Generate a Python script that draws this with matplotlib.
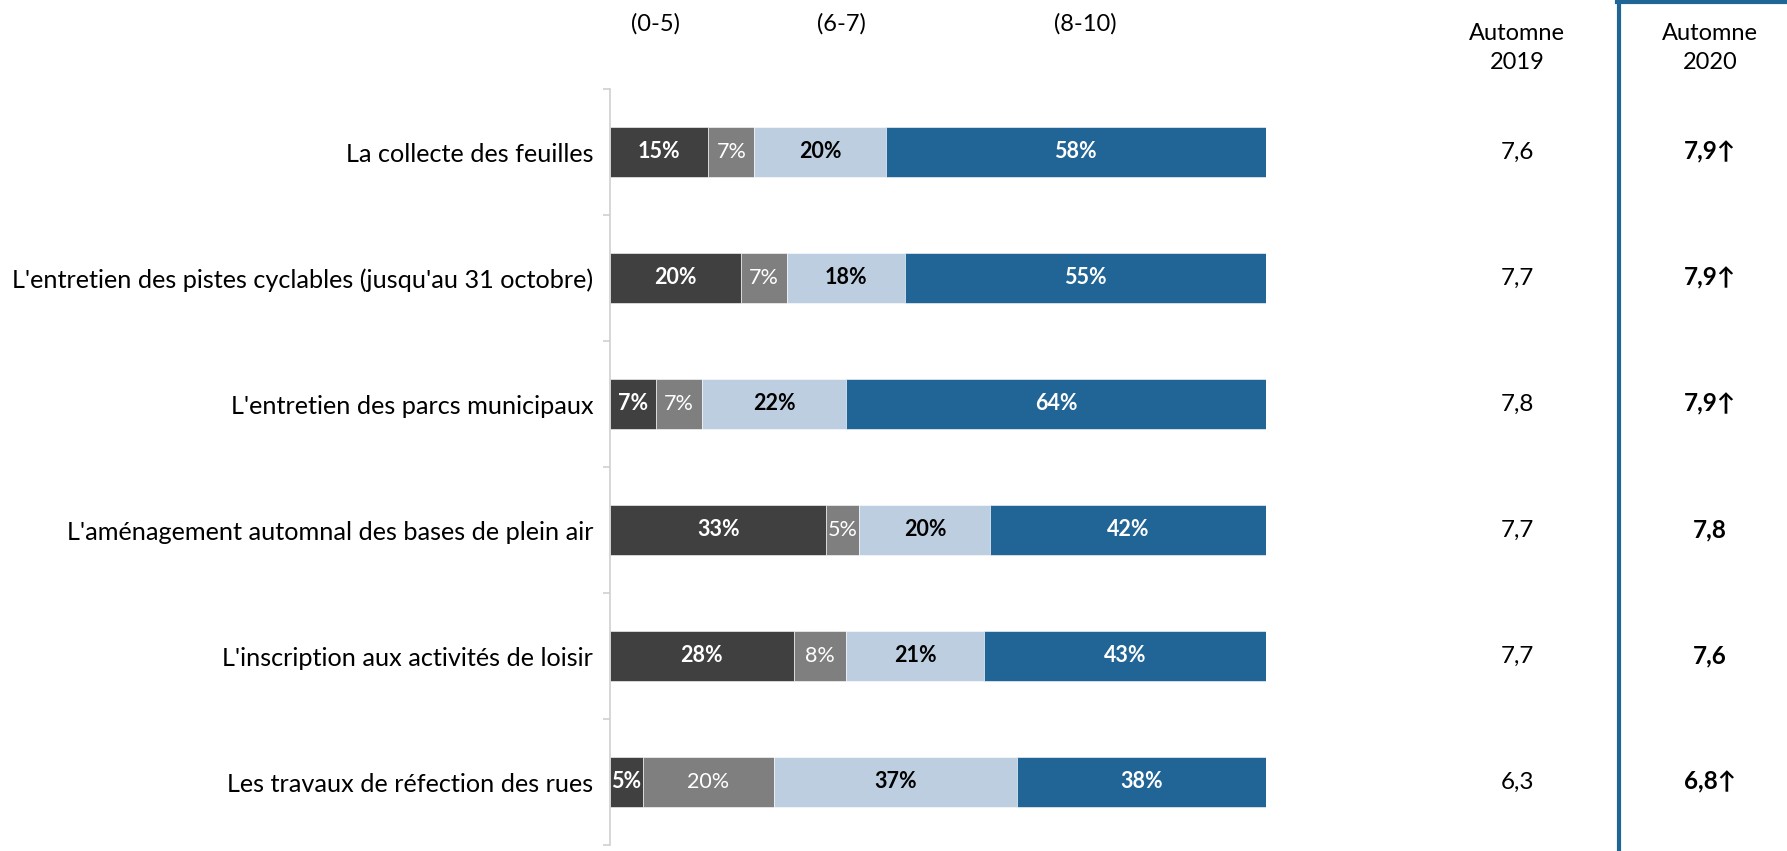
import numpy as np
import matplotlib.pyplot as plt
from matplotlib.lines import Line2D

plt.rcParams['font.family'] = ['Lato', 'DejaVu Sans']

categories = ["La collecte des feuilles",
              "L'entretien des pistes cyclables (jusqu'au 31 octobre)",
              "L'entretien des parcs municipaux",
              "L'aménagement automnal des bases de plein air",
              "L'inscription aux activités de loisir",
              "Les travaux de réfection des rues"]
bad = [15, 20, 7, 33, 28, 5]        # (0-5), part 1
low = [7, 7, 7, 5, 8, 20]           # (0-5), part 2
mid = [20, 18, 22, 20, 21, 37]      # (6-7)
high = [58, 55, 64, 42, 43, 38]     # (8-10)
score_2019 = ["7,6", "7,7", "7,8", "7,7", "7,7", "6,3"]
score_2020 = ["7,9↑", "7,9↑", "7,9↑", "7,8", "7,6", "6,8↑"]
group_labels = ["(0-5)", "(6-7)", "(8-10)"]

series = [bad, low, mid, high]
colors = ['#404040', '#7f7f7f', '#bccee0', '#216496']
txt_colors = ['white', 'white', 'black', 'white']
txt_weights = ['bold', 'normal', 'bold', 'bold']

W, H = 1787, 851
fig = plt.figure(figsize=(W / 100, H / 100), dpi=100)
ax = fig.add_axes([610 / W, 6 / H, 656 / W, (845 - 89) / H])

y = np.arange(len(categories))
left = np.zeros(len(categories))
for vals, c, tc, tw in zip(series, colors, txt_colors, txt_weights):
    vals = np.array(vals)
    ax.barh(y, vals, left=left, height=0.39, color=c, edgecolor='white', linewidth=0.4)
    for yi, l, v in zip(y, left, vals):
        ax.text(l + v / 2, yi, f"{v}%", ha='center', va='center',
                color=tc, fontweight=tw, fontsize=15.5)
    left += vals

ax.set_xlim(0, 100)
ax.set_ylim(len(categories) - 0.5, -0.5)
ax.set_xticks([])
ax.set_yticks(y)
ax.set_yticklabels(categories, fontsize=18.2)
ax.set_yticks(np.arange(-0.5, len(categories)), minor=True)
ax.tick_params(axis='y', which='major', length=0, pad=12)
ax.tick_params(axis='y', which='minor', length=5, color='#d0d0d0', width=1.2)
for s in ['top', 'right', 'bottom']:
    ax.spines[s].set_visible(False)
ax.spines['left'].set_color('#d0d0d0')
ax.spines['left'].set_linewidth(1.2)

# column headers above the bars
for lab, xp in zip(group_labels, [655, 841, 1085]):
    fig.text(xp / W, 1 - 24 / H, lab, ha='center', va='center', fontsize=17)

# score columns on the right
to_fig = lambda yy: fig.transFigure.inverted().transform(ax.transData.transform((0, yy)))[1]
fig.text(1517 / W, 1 - 48 / H, "Automne\n2019", ha='center', va='center',
         fontsize=17, linespacing=1.45)
fig.text(1710 / W, 1 - 48 / H, "Automne\n2020", ha='center', va='center',
         fontsize=17, linespacing=1.45)
for yi, s19, s20 in zip(y, score_2019, score_2020):
    fig.text(1517 / W, to_fig(yi), s19, ha='center', va='center', fontsize=17.5)
    fig.text(1710 / W, to_fig(yi), s20, ha='center', va='center',
             fontsize=17.5, fontweight='bold')

# frame around the latest column
fig.add_artist(Line2D([1619 / W, 1619 / W], [0, 1 - 2 / H], color='#216496',
                      linewidth=3, transform=fig.transFigure))
fig.add_artist(Line2D([1617 / W, 1], [1 - 2 / H, 1 - 2 / H], color='#216496',
                      linewidth=3, transform=fig.transFigure))

plt.savefig('out.png', dpi=100)
